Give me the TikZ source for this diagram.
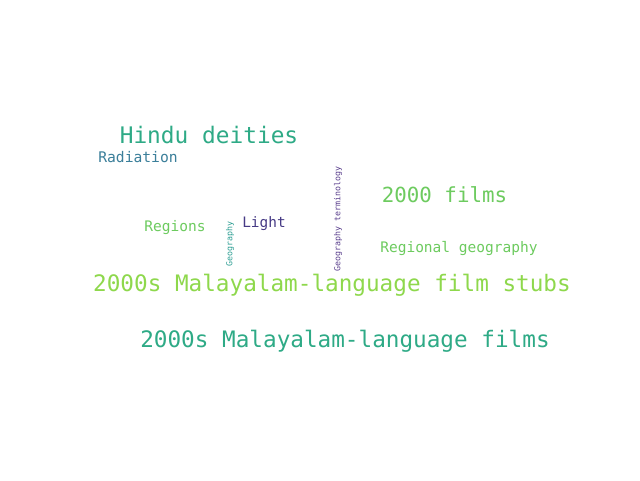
\documentclass[tikz,border=0pt]{standalone}
\usepackage{xcolor}
\usepackage{fontspec}
\setmonofont{DejaVu Sans Mono}
\usepackage{tikz}

\definecolor{vteal}{HTML}{2EAA86}
\definecolor{vblue}{HTML}{3B7F9A}
\definecolor{vgreen}{HTML}{6DCB5F}
\definecolor{vlime}{HTML}{8ED84C}
\definecolor{vpurple}{HTML}{463A85}
\definecolor{vcyan}{HTML}{2C9E93}
\definecolor{vviolet}{HTML}{5A3F8D}

\begin{document}
\begin{tikzpicture}[x=0.75pt, y=-0.75pt,
		word/.style={inner sep=0pt, font=\ttfamily}]
			\useasboundingbox[fill=white] (0,0) rectangle (640,480);
			
			\node [word, vteal, font=\ttfamily\fontsize{17.1}{18}\selectfont] (hindu) at (209,135) {Hindu deities};
			\node [word, vblue, font=\ttfamily\fontsize{11}{12}\selectfont] (radiation) at (138,157) {Radiation};
			\node [word, vgreen, font=\ttfamily\fontsize{15.6}{16}\selectfont] (films2000) at (444.5,195) {2000 films};
			\node [word, vgreen, font=\ttfamily\fontsize{10.9}{12}\selectfont] (regions) at (175,228) {Regions};
			\node [word, vpurple, font=\ttfamily\fontsize{10.8}{12}\selectfont] (light) at (264,224) {Light};
			\node [word, vcyan, rotate=90, font=\ttfamily\fontsize{6.2}{7}\selectfont] (geo) at (230,244) {Geography};
			\node [word, vviolet, rotate=90, font=\ttfamily\fontsize{6.2}{7}\selectfont] (geoterm) at (338,219) {Geography terminology};
			\node [word, vgreen, font=\ttfamily\fontsize{10.9}{12}\selectfont] (regional) at (459,248) {Regional geography};
			\node [word, vlime, font=\ttfamily\fontsize{17}{18}\selectfont] (stubs) at (332,285) {2000s Malayalam-language film stubs};
			\node [word, vteal, font=\ttfamily\fontsize{17}{18}\selectfont] (malfilms) at (345,341) {2000s Malayalam-language films};
		\end{tikzpicture}
\end{document}
